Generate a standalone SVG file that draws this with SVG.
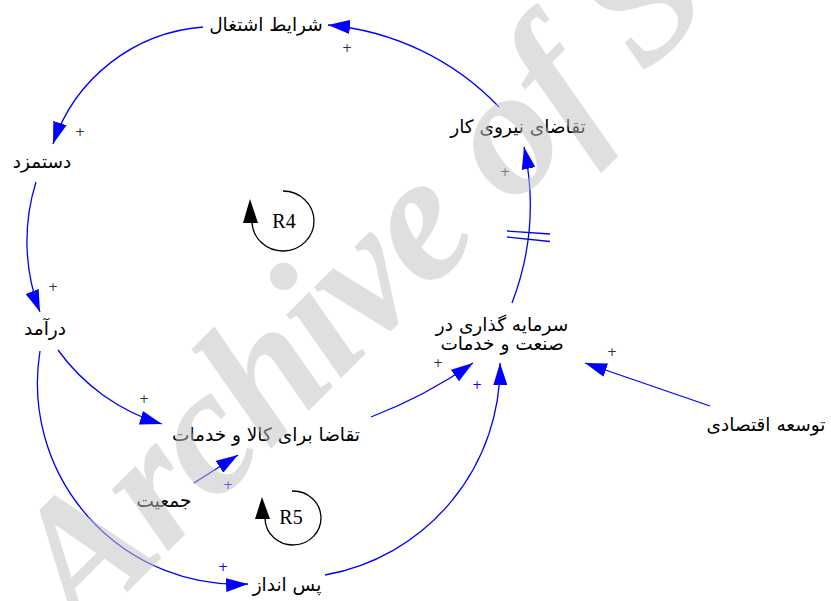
<svg xmlns="http://www.w3.org/2000/svg" width="831" height="601" viewBox="0 0 831 601">
<style>
.n{font-family:"DejaVu Sans","Noto Sans",sans-serif;font-size:18.5px;fill:#000;text-anchor:middle}
.p{font-family:"DejaVu Sans",sans-serif;font-size:12px;fill:#333;text-anchor:middle}
.pb{fill:#0000ff}
.c{fill:none;stroke:#0000ff;stroke-width:1.3}
.r{font-family:"Liberation Serif",serif;font-size:20px;fill:#000;text-anchor:middle}
.loop{fill:none;stroke:#000;stroke-width:1.3}
.wm{font-family:"Liberation Serif",serif;font-weight:bold;font-style:italic;font-size:182px;letter-spacing:-3px;fill:#c0c0c0;fill-opacity:0.5}
</style>
<defs>
<marker id="ah" markerUnits="userSpaceOnUse" markerWidth="22" markerHeight="14" refX="22" refY="7" orient="auto">
<path d="M0,0 L22,7 L0,14 z" fill="#0000ff"/>
</marker>
</defs>
<rect width="831" height="601" fill="#fff"/>
<g id="connectors">
<path class="c" d="M499,107 A269,269 0 0 0 328,25" marker-end="url(#ah)"/>
<path class="c" d="M203,27 A172,172 0 0 0 53,144" marker-end="url(#ah)"/>
<path class="c" d="M36,182 A198,198 0 0 0 40,312" marker-end="url(#ah)"/>
<path class="c" d="M58,350 A197,197 0 0 0 162,424" marker-end="url(#ah)"/>
<path class="c" d="M40,351 A201,201 0 0 0 248,584" marker-end="url(#ah)"/>
<path class="c" d="M194,483 L238,455" marker-end="url(#ah)"/>
<path class="c" d="M371,417 A477,477 0 0 0 473,363" marker-end="url(#ah)"/>
<path class="c" d="M325,575 A212,212 0 0 0 500,363" marker-end="url(#ah)"/>
<path class="c" d="M710,406 L585,363" marker-end="url(#ah)"/>
<path class="c" d="M512,303 A275,275 0 0 0 524,147" marker-end="url(#ah)"/>
<path class="c" d="M507,231 L550,234 M507,237 L550,241.5"/>
</g>
<g id="polarity">
<text class="p" x="347" y="52">+</text>
<text class="p" x="80" y="136">+</text>
<text class="p" x="505" y="176">+</text>
<text class="p" x="53" y="291">+</text>
<text class="p" x="144" y="403">+</text>
<text class="p pb" x="228" y="489">+</text>
<text class="p pb" x="223" y="571">+</text>
<text class="p" x="438" y="367">+</text>
<text class="p pb" x="477" y="389">+</text>
<text class="p" x="612" y="356">+</text>
</g>
<g id="loop-R4">
<path class="loop" d="M283,191 A31,30 0 1 1 252,222"/>
<path d="M250,199 L243,223 L258,223 z" fill="#000"/>
<text class="r" x="284" y="228">R4</text>
</g>
<g id="loop-R5">
<path class="loop" d="M292,491 A28,27 0 1 1 265,519"/>
<path d="M262,497 L255,519 L270,519 z" fill="#000"/>
<text class="r" x="291" y="524">R5</text>
</g>
<g id="n-sharayet"><text class="n" x="266" y="31">شرایط اشتغال</text></g>
<g id="n-taghaza-niru"><text class="n" x="518" y="133">تقاضای نیروی کار</text></g>
<g id="n-dastmozd"><text class="n" x="42" y="168">دستمزد</text></g>
<g id="n-daramad"><text class="n" x="45" y="335">درآمد</text></g>
<g id="n-sarmaye"><text class="n" x="502" y="331">سرمایه گذاری در</text><text class="n" x="502" y="350">صنعت و خدمات</text></g>
<g id="n-taghaza-kala"><text class="n" x="266" y="441">تقاضا برای کالا و خدمات</text></g>
<g id="n-jamiyat"><text class="n" x="164" y="507">جمعیت</text></g>
<g id="n-pasandaz"><text class="n" x="287" y="591">پس انداز</text></g>
<g id="n-tosee"><text class="n" x="766" y="431">توسعه اقتصادی</text></g>
<text class="wm" transform="translate(180,415) rotate(-45) translate(-227,88)">Archive of S</text>
</svg>
